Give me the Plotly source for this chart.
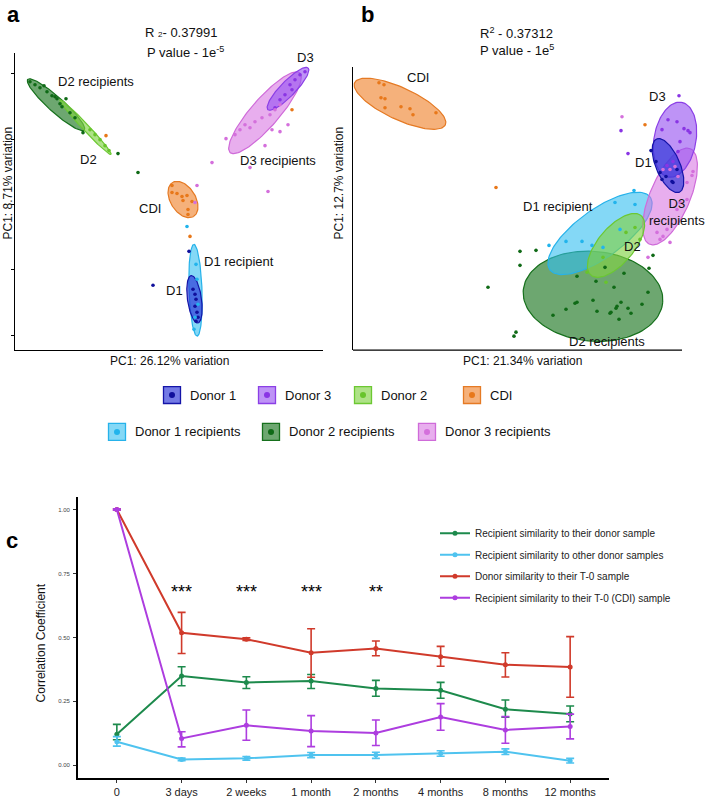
import numpy as np
import plotly.graph_objects as go

W, H = 707, 798
FONT = "Liberation Sans, Arial, Helvetica, sans-serif"

# ======================= DATA =======================
# ---- panel c : correlation over time ----
timepoints = ["0", "3 days", "2 weeks", "1 month", "2 months", "4 months", "8 months", "12 months"]
series_names = ["Recipient similarity to their donor sample",
                "Recipient similarity to other donor samples",
                "Donor similarity to their T-0 sample",
                "Recipient similarity to their T-0 (CDI) sample"]
own_donor_mean = [0.121, 0.349, 0.324, 0.329, 0.300, 0.293, 0.219, 0.200]
own_donor_upper = [0.160, 0.385, 0.346, 0.355, 0.332, 0.324, 0.255, 0.232]
own_donor_lower = [0.100, 0.311, 0.300, 0.300, 0.270, 0.262, 0.188, 0.170]
other_donor_mean = [0.092, 0.023, 0.027, 0.040, 0.040, 0.046, 0.053, 0.018]
other_donor_upper = [0.112, 0.028, 0.034, 0.050, 0.051, 0.057, 0.064, 0.027]
other_donor_lower = [0.075, 0.018, 0.020, 0.030, 0.027, 0.035, 0.042, 0.009]
donor_t0_mean = [1.000, 0.518, 0.493, 0.440, 0.457, 0.424, 0.393, 0.384]
donor_t0_upper = [1.003, 0.598, 0.498, 0.534, 0.486, 0.465, 0.440, 0.503]
donor_t0_lower = [0.997, 0.437, 0.488, 0.344, 0.428, 0.387, 0.345, 0.266]
recip_t0_mean = [1.000, 0.105, 0.156, 0.134, 0.126, 0.189, 0.138, 0.152]
recip_t0_upper = [1.003, 0.131, 0.216, 0.194, 0.177, 0.241, 0.190, 0.200]
recip_t0_lower = [0.997, 0.072, 0.098, 0.073, 0.077, 0.137, 0.086, 0.103]
signif_times = ["3 days", "2 weeks", "1 month", "2 months"]
signif_marks = ["***", "***", "***", "**"]
c_yticks = [0.0, 0.25, 0.5, 0.75, 1.0]
c_yticklabels = ["0.00", "0.25", "0.50", "0.75", "1.00"]

# ---- PCA groups ----
groups = ["Donor 1", "Donor 3", "Donor 2", "CDI",
          "Donor 1 recipients", "Donor 2 recipients", "Donor 3 recipients"]

# ---- panel a points (PC1, PC2 scores) ----
a_donor1_pc1 = [-0.016, 0.020, 0.024, 0.026, 0.027, 0.026, 0.028, 0.029, 0.027]
a_donor1_pc2 = [-0.081, -0.047, -0.085, -0.090, -0.095, -0.102, -0.108, -0.113, -0.117]
a_donor3_pc1 = [0.121, 0.126, 0.131, 0.116, 0.111, 0.123, 0.136, 0.106]
a_donor3_pc2 = [0.120, 0.125, 0.130, 0.110, 0.105, 0.115, 0.133, 0.097]
a_donor2_pc1 = [-0.079, -0.074, -0.069, -0.064, -0.060]
a_donor2_pc2 = [0.075, 0.070, 0.065, 0.059, 0.054]
a_cdi_pc1 = [0.003, 0.008, 0.013, 0.014, 0.018, 0.023, 0.019, 0.019, 0.003, -0.063, 0.123, 0.021]
a_cdi_pc2 = [0.012, 0.011, 0.008, 0.004, 0.009, 0.003, -0.005, -0.010, 0.019, 0.069, 0.095, -0.032]
a_rec1_pc1 = [0.018, 0.027, 0.028, 0.029, 0.026, 0.025]
a_rec1_pc2 = [-0.022, -0.060, -0.075, -0.100, -0.113, -0.125]
a_rec2_pc1 = [-0.139, -0.134, -0.129, -0.125, -0.122, -0.117, -0.114, -0.112, -0.109, -0.103,
              -0.107, -0.099, -0.094, -0.086, -0.051, -0.031]
a_rec2_pc2 = [0.123, 0.120, 0.117, 0.119, 0.113, 0.109, 0.108, 0.106, 0.101, 0.106,
              0.098, 0.092, 0.087, 0.072, 0.051, 0.032]
a_rec3_pc1 = [0.057, 0.066, 0.071, 0.076, 0.081, 0.086, 0.093, 0.101, 0.106, 0.111,
              0.103, 0.111, 0.096, 0.119, 0.043, 0.081, 0.028, 0.099, 0.026]
a_rec3_pc2 = [0.066, 0.070, 0.075, 0.080, 0.077, 0.083, 0.087, 0.090, 0.095, 0.100,
              0.075, 0.073, 0.059, 0.080, 0.042, 0.037, 0.019, 0.013, 0.002]

# panel a confidence ellipses (group order): centre, semi-axes, rotation (deg)
a_ell_cx = [0.0255, 0.119, -0.0835, 0.014, 0.0265, -0.113, 0.096]
a_ell_cy = [-0.095, 0.116, 0.0775, 0.005, -0.086, 0.100, 0.092]
a_ell_a = [0.024, 0.029, 0.0375, 0.020, 0.046, 0.038, 0.053]
a_ell_b = [0.007, 0.0075, 0.0032, 0.0125, 0.0065, 0.0075, 0.014]
a_ell_ang = [98, 46, -47, -58, 92, -42, 49]

# ---- panel b points ----
b_donor1_pc1 = [0.134, 0.139, 0.143, 0.149, 0.155, 0.160, 0.156, 0.145]
b_donor1_pc2 = [0.058, 0.047, 0.036, 0.032, 0.027, 0.039, 0.026, 0.029]
b_donor3_pc1 = [0.162, 0.151, 0.160, 0.167, 0.171, 0.173, 0.163, 0.161, 0.156, 0.150, 0.145, 0.104, 0.111]
b_donor3_pc2 = [0.113, 0.089, 0.087, 0.080, 0.078, 0.076, 0.067, 0.057, 0.047, 0.043, 0.079, 0.078, 0.055]
b_donor2_pc1 = [0.109, 0.118, 0.086, 0.089, 0.070, 0.123]
b_donor2_pc2 = [-0.024, -0.019, -0.049, -0.074, -0.064, -0.031]
b_cdi_pc1 = [-0.138, -0.133, -0.136, -0.132, -0.132, -0.116, -0.107, -0.104, -0.081, -0.021, 0.128]
b_cdi_pc2 = [0.126, 0.124, 0.111, 0.110, 0.101, 0.102, 0.100, 0.094, 0.096, 0.021, 0.084]
b_rec1_pc1 = [0.117, 0.098, 0.118, 0.032, 0.049, 0.065, 0.086, 0.075, 0.103]
b_rec1_pc2 = [0.018, 0.006, 0.004, -0.037, -0.033, -0.033, -0.039, -0.037, -0.021]
b_rec2_pc1 = [0.003, 0.019, 0.003, -0.029, -0.001, -0.003, 0.060, 0.036, 0.049, 0.058,
              0.060, 0.076, 0.080, 0.093, 0.094, 0.099, 0.100, 0.104, 0.111, 0.114,
              0.102, 0.125, 0.131, 0.097, 0.107, 0.088, 0.132, 0.136, 0.079]
b_rec2_pc2 = [-0.043, -0.042, -0.057, -0.079, -0.124, -0.128, -0.068, -0.107, -0.101, -0.095,
              -0.094, -0.092, -0.103, -0.105, -0.104, -0.100, -0.098, -0.094, -0.100, -0.105,
              -0.111, -0.096, -0.084, -0.079, -0.065, -0.059, -0.060, -0.047, -0.073]
b_rec3_pc1 = [0.146, 0.153, 0.158, 0.161, 0.170, 0.175, 0.176, 0.170, 0.163, 0.160,
              0.150, 0.146, 0.153, 0.143, 0.140, 0.131, 0.105]
b_rec3_pc2 = [0.039, 0.039, 0.042, 0.032, 0.026, 0.033, 0.037, 0.009, 0.006, -0.001,
              -0.021, -0.028, -0.034, -0.031, -0.024, -0.049, 0.092]

b_ell_cx = [0.151, 0.158, 0.099, -0.117, 0.083, 0.076, 0.153]
b_ell_cy = [0.043, 0.069, -0.037, 0.105, -0.025, -0.088, 0.012]
b_ell_a = [0.029, 0.038, 0.039, 0.050, 0.062, 0.070, 0.052]
b_ell_b = [0.012, 0.021, 0.018, 0.016, 0.024, 0.045, 0.020]
b_ell_ang = [113, 80, 50, -25, 36, -5, 67]

# ---- text ----
a_labels = ["D2 recipients", "D2", "D3", "D3 recipients", "CDI", "D1 recipient", "D1"]
a_label_pc1 = [-0.073, -0.081, 0.136, 0.109, -0.019, 0.070, 0.005]
a_label_pc2 = [0.123, 0.045, 0.147, 0.044, -0.004, -0.057, -0.086]
b_labels = ["CDI", "D3", "D1", "D1 recipient", "D3<br>recipients", "D2", "D2 recipients"]
b_label_pc1 = [-0.099, 0.140, 0.126, 0.041, 0.160, 0.115, 0.090]
b_label_pc2 = [0.131, 0.112, 0.046, 0.002, -0.004, -0.038, -0.133]

# ======================= STYLE =======================
point_color = {"Donor 1": "#10109c", "Donor 3": "#8a35e4", "Donor 2": "#68c42c", "CDI": "#e8781a",
               "Donor 1 recipients": "#22b4ec", "Donor 2 recipients": "#0f6a16",
               "Donor 3 recipients": "#d470dc"}
edge_color = {"Donor 1": "#1414a8", "Donor 3": "#8b3fe6", "Donor 2": "#6cc832", "CDI": "#e57a24",
              "Donor 1 recipients": "#26b2ea", "Donor 2 recipients": "#16701c",
              "Donor 3 recipients": "#cf6bd9"}
fill_color = {"Donor 1": "rgba(40,50,215,0.65)", "Donor 3": "rgba(150,80,240,0.62)",
              "Donor 2": "rgba(130,210,70,0.65)", "CDI": "rgba(240,140,60,0.68)",
              "Donor 1 recipients": "rgba(50,190,240,0.6)",
              "Donor 2 recipients": "rgba(30,120,35,0.65)",
              "Donor 3 recipients": "rgba(215,115,225,0.58)"}
line_colors = ["#1d8a4c", "#4fc3ef", "#d03a2b", "#ad3ddf"]
ell_draw_order = ["Donor 2 recipients", "Donor 1 recipients", "Donor 3 recipients",
                  "Donor 3", "Donor 2", "CDI", "Donor 1"]


def pxx(x):
    return x / W


def pxy(y):
    return 1 - y / H


def ellipse_xy(cx, cy, a, b, ang):
    t = np.linspace(0, 2 * np.pi, 120)
    th = np.deg2rad(ang)
    x = cx + a * np.cos(t) * np.cos(th) - b * np.sin(t) * np.sin(th)
    y = cy + a * np.cos(t) * np.sin(th) + b * np.sin(t) * np.cos(th)
    return x, y


fig = go.Figure()

panels = {
    "a": dict(xa="x", ya="y",
              pts={"Donor 1": (a_donor1_pc1, a_donor1_pc2), "Donor 3": (a_donor3_pc1, a_donor3_pc2),
                   "Donor 2": (a_donor2_pc1, a_donor2_pc2), "CDI": (a_cdi_pc1, a_cdi_pc2),
                   "Donor 1 recipients": (a_rec1_pc1, a_rec1_pc2),
                   "Donor 2 recipients": (a_rec2_pc1, a_rec2_pc2),
                   "Donor 3 recipients": (a_rec3_pc1, a_rec3_pc2)},
              ell=(a_ell_cx, a_ell_cy, a_ell_a, a_ell_b, a_ell_ang)),
    "b": dict(xa="x2", ya="y2",
              pts={"Donor 1": (b_donor1_pc1, b_donor1_pc2), "Donor 3": (b_donor3_pc1, b_donor3_pc2),
                   "Donor 2": (b_donor2_pc1, b_donor2_pc2), "CDI": (b_cdi_pc1, b_cdi_pc2),
                   "Donor 1 recipients": (b_rec1_pc1, b_rec1_pc2),
                   "Donor 2 recipients": (b_rec2_pc1, b_rec2_pc2),
                   "Donor 3 recipients": (b_rec3_pc1, b_rec3_pc2)},
              ell=(b_ell_cx, b_ell_cy, b_ell_a, b_ell_b, b_ell_ang)),
}

for key, p in panels.items():
    cx, cy, ea, eb, ang = p["ell"]
    for g in ell_draw_order:
        i = groups.index(g)
        ex, ey = ellipse_xy(cx[i], cy[i], ea[i], eb[i], ang[i])
        fig.add_trace(go.Scatter(x=ex, y=ey, mode="lines", fill="toself",
                                 fillcolor=fill_color[g], line=dict(color=edge_color[g], width=1.2),
                                 xaxis=p["xa"], yaxis=p["ya"], showlegend=False, hoverinfo="skip"))
    for g in groups:
        xs, ys = p["pts"][g]
        fig.add_trace(go.Scatter(x=xs, y=ys, mode="markers",
                                 marker=dict(color=point_color[g], size=3.6),
                                 xaxis=p["xa"], yaxis=p["ya"], showlegend=False, name=g))

# ---- panel c lines ----
c_series = [(own_donor_mean, own_donor_upper, own_donor_lower),
            (other_donor_mean, other_donor_upper, other_donor_lower),
            (donor_t0_mean, donor_t0_upper, donor_t0_lower),
            (recip_t0_mean, recip_t0_upper, recip_t0_lower)]
for k, (m, up, lo) in enumerate(c_series):
    m = np.array(m); up = np.array(up); lo = np.array(lo)
    fig.add_trace(go.Scatter(
        x=timepoints, y=m, mode="lines+markers", name=series_names[k],
        line=dict(color=line_colors[k], width=2), marker=dict(color=line_colors[k], size=5),
        error_y=dict(type="data", symmetric=False, array=up - m, arrayminus=m - lo,
                     color=line_colors[k], thickness=1.6, width=4),
        xaxis="x3", yaxis="y3", legendgroup=series_names[k]))

annotations = []
# stars
for t, s in zip(signif_times, signif_marks):
    annotations.append(dict(x=t, y=0.676, xref="x3", yref="y3", text=s, showarrow=False,
                            font=dict(size=18, color="black", family=FONT)))
# PCA labels
for txt, x, y in zip(a_labels, a_label_pc1, a_label_pc2):
    annotations.append(dict(x=x, y=y, xref="x", yref="y", text=txt, showarrow=False,
                            font=dict(size=13, color="#111", family=FONT)))
for txt, x, y in zip(b_labels, b_label_pc1, b_label_pc2):
    annotations.append(dict(x=x, y=y, xref="x2", yref="y2", text=txt, showarrow=False,
                            font=dict(size=13, color="#111", family=FONT)))


def ann_px(x, y, text, size, xanchor="center", yanchor="middle", bold=False, angle=0, color="#111"):
    annotations.append(dict(x=pxx(x), y=pxy(y), xref="paper", yref="paper", text=text,
                            showarrow=False, xanchor=xanchor, yanchor=yanchor, textangle=angle,
                            font=dict(size=size, color=color, family=FONT,
                                      weight="bold" if bold else "normal")))


# panel letters
ann_px(13, 0.5, "a", 22, yanchor="top", bold=True, color="black")
ann_px(367, 0.5, "b", 22, yanchor="top", bold=True, color="black")
ann_px(12, 527, "c", 22, yanchor="top", bold=True, color="black")
# panel titles
ann_px(181, 33, "R <span style='font-size:8px'>2</span>- 0.37991", 13)
ann_px(185, 52, "P value - 1e<sup>-5</sup>", 13)
ann_px(516, 33, "R<sup>2</sup> - 0.37312", 13)
ann_px(517, 50, "P value - 1e<sup>5</sup>", 13)
# axis titles
ann_px(169, 362, "PC1: 26.12% variation", 12)
ann_px(522, 362, "PC1: 21.34% variation", 12)
ann_px(8, 184, "PC1: 8.71% variation", 12, angle=-90)
ann_px(339, 184, "PC1: 12.7% variation", 12, angle=-90)
ann_px(41, 645, "Correlation Coefficient", 12, angle=-90)

# manual legend for PCA groups
leg_rows = {"Donor 1": (172, 396), "Donor 3": (267, 396), "Donor 2": (363, 396), "CDI": (472, 396),
            "Donor 1 recipients": (117, 433), "Donor 2 recipients": (271, 433),
            "Donor 3 recipients": (427, 433)}
shapes = []
for g in groups:
    cxp, cyp = leg_rows[g]
    shapes.append(dict(type="rect", xref="paper", yref="paper",
                       x0=pxx(cxp - 8.5), x1=pxx(cxp + 8.5), y0=pxy(cyp + 8.5), y1=pxy(cyp - 8.5),
                       fillcolor=fill_color[g], line=dict(color=edge_color[g], width=1.3)))
    shapes.append(dict(type="circle", xref="paper", yref="paper",
                       x0=pxx(cxp - 3), x1=pxx(cxp + 3), y0=pxy(cyp + 3), y1=pxy(cyp - 3),
                       fillcolor=point_color[g], line=dict(width=0)))
    ann_px(cxp + 16, cyp, g, 13, xanchor="left")

# shortened x axis line of panel b
shapes.append(dict(type="line", xref="x2 domain", yref="y2 domain", x0=0, x1=329 / 349, y0=0, y1=0,
                   line=dict(color="black", width=1.3)))

axis_common = dict(showgrid=False, zeroline=False, linecolor="black", linewidth=1.3,
                   tickcolor="black")

fig.update_layout(
    width=W, height=H, margin=dict(l=0, r=0, t=0, b=0),
    plot_bgcolor="white", paper_bgcolor="white",
    font=dict(family=FONT, color="#111"),
    xaxis=dict(domain=[pxx(15), pxx(323)], range=[-0.154, 0.154], showline=True, ticks="",
               showticklabels=False, anchor="y", **axis_common),
    yaxis=dict(domain=[pxy(351), pxy(53)], range=[-0.146, 0.152], showline=True, ticks="outside",
               ticklen=3, tickvals=[-0.131, -0.0655, 0, 0.0655, 0.131], showticklabels=False,
               anchor="x", **axis_common),
    xaxis2=dict(domain=[pxx(353), pxx(702)], range=[-0.164, 0.185], showline=False, ticks="",
                showticklabels=False, anchor="y2", **axis_common),
    yaxis2=dict(domain=[pxy(351), pxy(67)], range=[-0.142, 0.142], showline=True, ticks="",
                showticklabels=False, anchor="x2", **axis_common),
    xaxis3=dict(domain=[pxx(78), pxx(609)], type="category", categoryorder="array",
                categoryarray=timepoints, range=[-0.6, 7.6], showline=True, ticks="outside",
                ticklen=3, tickfont=dict(size=11, color="#222"), anchor="y3",
                showgrid=False, zeroline=False, linecolor="black", linewidth=1.7, tickcolor="#333"),
    yaxis3=dict(domain=[pxy(780), pxy(498)], range=[-0.05, 1.05], showline=True, ticks="outside",
                ticklen=3, tickvals=c_yticks, ticktext=c_yticklabels, ticklabelstandoff=2,
                tickfont=dict(size=6, color="#444"), anchor="x3",
                showgrid=False, zeroline=False, linecolor="black", linewidth=1.7, tickcolor="#333"),
    showlegend=True,
    legend=dict(x=pxx(435), y=pxy(520), xanchor="left", yanchor="top",
                font=dict(size=10, color="#222", family=FONT), bgcolor="rgba(0,0,0,0)",
                tracegroupgap=2.5, itemwidth=30),
    annotations=annotations, shapes=shapes,
)

fig.write_html("out.html", config={"displayModeBar": False},
               post_script="document.body.style.margin='0';document.body.style.padding='0';")
